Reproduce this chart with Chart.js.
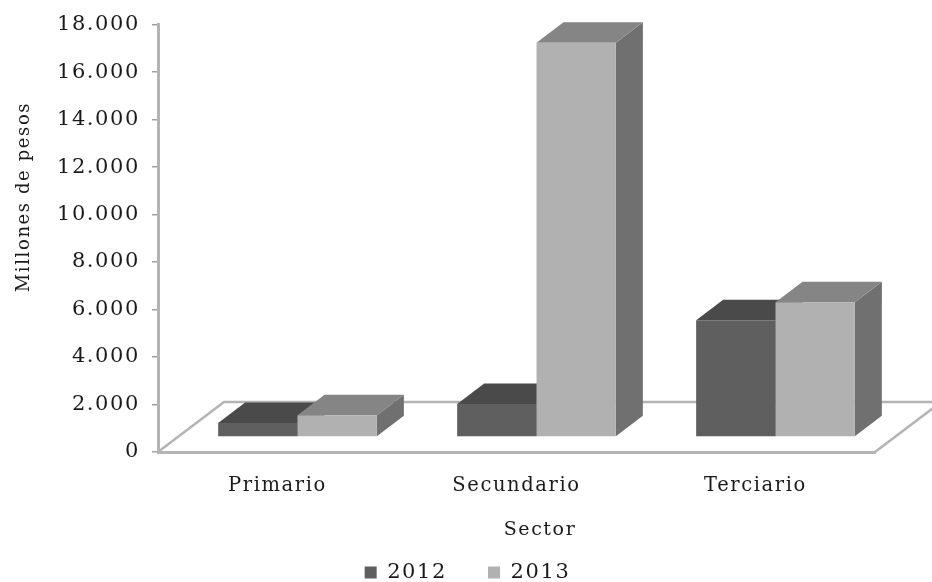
<!DOCTYPE html>
<html>
<head>
<meta charset="utf-8">
<title>Millones de pesos por sector</title>
<script src="https://cdn.jsdelivr.net/npm/chart.js@4"></script>
<style>
  html, body { margin: 0; padding: 0; background: #fff; }
  #wrap { width: 932px; height: 582px; }
</style>
</head>
<body>
<div id="wrap"><canvas id="chart"></canvas></div>
<script>
const sectors = ['Primario', 'Secundario', 'Terciario'];
const values2012 = [590, 1390, 4920];
const values2013 = [920, 16600, 5680];
const yTicks = ['0', '2.000', '4.000', '6.000', '8.000', '10.000', '12.000', '14.000', '16.000', '18.000'];

const FONT = '"DejaVu Serif", serif';
const TEXT = '#1a1a1a';
const AXIS_GRAY = '#b4b4b4';

// 3D look of the original: bars stand in the middle of the floor
const BAR_SHIFT_X = 20, BAR_SHIFT_Y = -15;
const DEPTH_X = 27, DEPTH_Y = 20.5;
const FLOOR_X = 66, FLOOR_Y = 50;

const faces = [
  { top: '#4a4a4a', side: '#505050' },
  { top: '#858585', side: '#707070' }
];

function drawText(ctx, text, x, y, size, angle) {
  ctx.save();
  ctx.translate(x, y);
  ctx.rotate(angle);
  ctx.font = size + 'px ' + FONT;
  ctx.fillStyle = TEXT;
  ctx.textAlign = 'center';
  ctx.textBaseline = 'middle';
  ctx.fillText(text, 0, 0);
  ctx.restore();
}

const fake3d = {
  id: 'fake3d',
  beforeUpdate(chart) { chart.ctx.letterSpacing = '1.6px'; },
  afterLayout(chart) { chart.legend.left += 60; }, // legend centre sits right of the page centre
  beforeDraw(chart) { chart.ctx.letterSpacing = '1.6px'; },
  beforeDatasetsDraw(chart) {
    const { ctx, chartArea: a } = chart;
    // floor outline
    ctx.save();
    ctx.strokeStyle = AXIS_GRAY;
    ctx.lineWidth = 2.5;
    ctx.beginPath();
    ctx.moveTo(a.left, a.bottom);
    ctx.lineTo(a.left + FLOOR_X, a.bottom - FLOOR_Y);
    ctx.lineTo(chart.width, a.bottom - FLOOR_Y);
    ctx.moveTo(a.right, a.bottom);
    ctx.lineTo(a.right + FLOOR_X, a.bottom - FLOOR_Y);
    ctx.stroke();
    ctx.restore();

    // sides and tops go first, 2012 then 2013, the front faces cover the rest
    ctx.save();
    ctx.translate(BAR_SHIFT_X, BAR_SHIFT_Y);
    chart.data.datasets.forEach((ds, i) => {
      const c = faces[i];
      chart.getDatasetMeta(i).data.forEach(bar => {
        const l = bar.x - bar.width / 2, r = bar.x + bar.width / 2;
        ctx.fillStyle = c.side;
        ctx.beginPath();
        ctx.moveTo(r, bar.y);
        ctx.lineTo(r + DEPTH_X, bar.y - DEPTH_Y);
        ctx.lineTo(r + DEPTH_X, bar.base - DEPTH_Y);
        ctx.lineTo(r, bar.base);
        ctx.closePath();
        ctx.fill();
        ctx.fillStyle = c.top;
        ctx.beginPath();
        ctx.moveTo(l, bar.y);
        ctx.lineTo(l + DEPTH_X, bar.y - DEPTH_Y);
        ctx.lineTo(r + DEPTH_X, bar.y - DEPTH_Y);
        ctx.lineTo(r, bar.y);
        ctx.closePath();
        ctx.fill();
      });
    });
    ctx.restore();
  },
  beforeDatasetDraw(chart) {
    chart.ctx.save();
    chart.ctx.translate(BAR_SHIFT_X, BAR_SHIFT_Y);
  },
  afterDatasetDraw(chart) {
    chart.ctx.restore();
  },
  afterDraw(chart) {
    // both axis titles sit off the axis middle in the original
    drawText(chart.ctx, 'Millones de pesos', 24, 197, 18, -Math.PI / 2);
    drawText(chart.ctx, 'Sector', 540, 530, 19, 0);
  }
};

new Chart(document.getElementById('chart'), {
  type: 'bar',
  data: {
    labels: sectors,
    datasets: [
      { label: '2012', data: values2012, backgroundColor: '#5f5f5f', clip: false },
      { label: '2013', data: values2013, backgroundColor: '#b1b1b1', clip: false }
    ]
  },
  options: {
    responsive: true,
    maintainAspectRatio: false,
    animation: false,
    categoryPercentage: 0.664,
    barPercentage: 1,
    layout: { padding: { top: 18, right: 57, left: 0, bottom: -11 } },
    plugins: {
      tooltip: { enabled: false },
      legend: {
        position: 'bottom',
        labels: {
          color: TEXT,
          font: { family: FONT, size: 21 },
          boxWidth: 12,
          boxHeight: 12,
          padding: 41
        }
      }
    },
    scales: {
      x: {
        afterFit: s => { s.height = 69; },
        grid: { display: false },
        border: { color: AXIS_GRAY, width: 3 },
        ticks: { color: TEXT, font: { family: FONT, size: 19.5 }, padding: 14 }
      },
      y: {
        min: 0,
        max: 18000,
        afterFit: s => { s.width = 158; },
        afterBuildTicks: s => { s.ticks = yTicks.map((_, i) => ({ value: i * 2000 })); },
        grid: { drawOnChartArea: false, color: '#a0a0a0', lineWidth: 1.5, tickLength: 6 },
        border: { color: AXIS_GRAY, width: 3 },
        ticks: {
          color: TEXT,
          font: { family: FONT, size: 21 },
          padding: 12,
          callback: (v, i) => yTicks[i]
        }
      }
    }
  },
  plugins: [fake3d]
});
</script>
</body>
</html>
